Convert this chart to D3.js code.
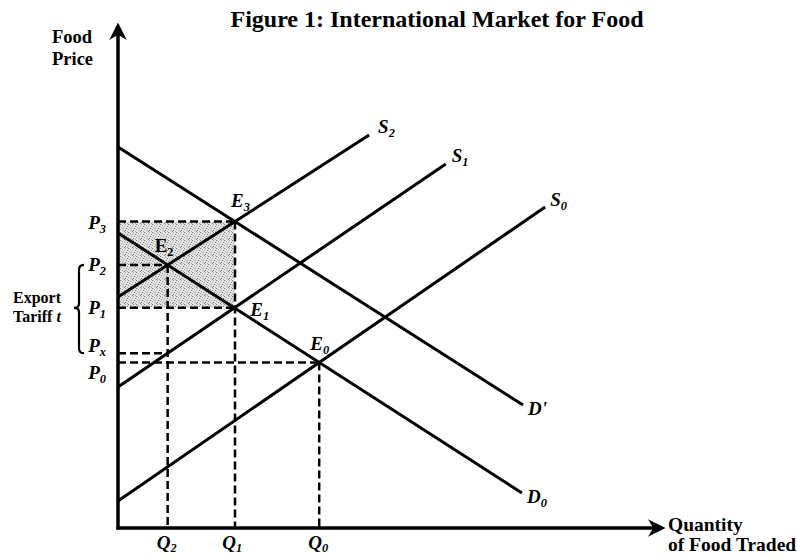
<!DOCTYPE html>
<meta charset="utf-8">
<style>
    body { margin: 0; background: #fff; }
    text { font-family: "Liberation Serif", "Times New Roman", serif; font-weight: bold; fill: #000; }
    .it { font-style: italic; }
    .curve { fill: none; stroke: #000; stroke-width: 3; }
    .dash { fill: none; stroke: #000; stroke-width: 2.5; stroke-dasharray: 8,4; }
</style>
<script src="https://d3js.org/d3.v7.min.js"></script>
<svg width="797" height="558"></svg>
<script>
    // curves as [quantity, price] end points (0..100 units)
    let demandNames = ["D'", "D0"];
    let demandLines = [[[0, 76.2], [75, 24.6]], [[0, 59], [74.8, 7]]];
    let supplyNames = ["S2", "S1", "S0"];
    let supplyLines = [[[0, 46.2], [46.5, 78.6]], [[0, 28.2], [60.7, 72.8]], [[0, 5.4], [79.1, 64.2]]];

    let svg = d3.select("svg");
    let x = d3.scaleLinear().domain([0, 100]).range([118, 658]);
    let y = d3.scaleLinear().domain([0, 100]).range([528, 28]);

    let curves = {};
    demandNames.forEach((n, i) => curves[n] = demandLines[i]);
    supplyNames.forEach((n, i) => curves[n] = supplyLines[i]);

    function lineFn(seg) {
        let m = (seg[1][1] - seg[0][1]) / (seg[1][0] - seg[0][0]);
        return { m: m, b: seg[0][1] - m * seg[0][0] };
    }
    function cross(a, b) {
        let l1 = lineFn(curves[a]), l2 = lineFn(curves[b]);
        let q = (l2.b - l1.b) / (l1.m - l2.m);
        return [q, l1.m * q + l1.b];
    }
    function at(name, q) { let l = lineFn(curves[name]); return l.m * q + l.b; }

    let E0 = cross("S0", "D0"), E1 = cross("S1", "D0"), E2 = cross("S2", "D0"), E3 = cross("S2", "D'");
    let Px = at("S1", E2[0]);

    // stipple pattern for the shaded area
    let defs = svg.append("defs");
    let pat = defs.append("pattern").attr("id", "stip").attr("width", 8).attr("height", 8)
        .attr("patternUnits", "userSpaceOnUse");
    pat.append("rect").attr("width", 8).attr("height", 8).attr("fill", "#e2e2e2");
    let dots = [[0, 0], [5, 0], [2, 1], [7, 2], [4, 2], [1, 3], [6, 4], [3, 4], [0, 5], [5, 6], [2, 6], [7, 7], [4, 7]];
    dots.forEach((d, i) =>
        pat.append("rect").attr("x", d[0]).attr("y", d[1]).attr("width", 1).attr("height", 1)
            .attr("fill", i % 3 ? "#a0a0a0" : "#7a7a7a"));
    defs.append("marker").attr("id", "arr").attr("viewBox", "0 0 10 10").attr("refX", 8).attr("refY", 5)
        .attr("markerWidth", 5).attr("markerHeight", 5).attr("orient", "auto")
        .append("path").attr("d", "M0,0L10,5L0,10L3,5Z").attr("fill", "#000");

    svg.append("rect")
        .attr("x", x(0)).attr("y", y(E3[1]))
        .attr("width", x(E1[0]) - x(0)).attr("height", y(E1[1]) - y(E3[1]))
        .attr("fill", "url(#stip)");

    // dashed guides
    let hDash = [[E3[1], E3[0]], [E2[1], E2[0]], [E1[1], E1[0]], [Px, E2[0]], [E0[1], E0[0]]];
    svg.selectAll(".hd").data(hDash).enter().append("line").attr("class", "dash")
        .attr("x1", x(0)).attr("x2", d => x(d[1])).attr("y1", d => y(d[0])).attr("y2", d => y(d[0]));
    let vDash = [E2, E3, E0];
    svg.selectAll(".vd").data(vDash).enter().append("line").attr("class", "dash")
        .attr("x1", d => x(d[0])).attr("x2", d => x(d[0])).attr("y1", d => y(d[1])).attr("y2", y(0));

    let line = d3.line().x(d => x(d[0])).y(d => y(d[1]));
    svg.selectAll(".curve").data(demandLines.concat(supplyLines)).enter().append("path")
        .attr("class", "curve").attr("d", line);

    // axes
    svg.append("line").attr("x1", x(0)).attr("x2", x(0)).attr("y1", y(0) + 1.5).attr("y2", y(100) - 2)
        .attr("stroke", "#000").attr("stroke-width", 3.5).attr("marker-end", "url(#arr)");
    svg.append("line").attr("x1", x(0) - 1.5).attr("x2", x(100) + 4).attr("y1", y(0)).attr("y2", y(0))
        .attr("stroke", "#000").attr("stroke-width", 3.5).attr("marker-end", "url(#arr)");

    function label(px, py, main, sub, opts) {
        opts = opts || {};
        let size = opts.size || 19;
        let t = svg.append("text").attr("x", px).attr("y", py)
            .attr("font-size", size).attr("text-anchor", opts.anchor || "start");
        if (opts.italic !== false) t.attr("class", "it");
        t.append("tspan").text(main);
        if (sub) t.append("tspan").attr("dy", opts.dy || 4).attr("font-size", size * 0.65).text(sub);
        return t;
    }

    svg.append("text").attr("x", 437).attr("y", 27).attr("text-anchor", "middle")
        .attr("font-size", 24).text("Figure 1: International Market for Food");
    svg.append("text").attr("x", 52).attr("y", 43).attr("font-size", 18.5).text("Food");
    svg.append("text").attr("x", 52).attr("y", 65).attr("font-size", 18.5).text("Price");
    svg.append("text").attr("x", 668).attr("y", 531).attr("font-size", 19.5).text("Quantity");
    svg.append("text").attr("x", 668).attr("y", 551).attr("font-size", 19.5).text("of Food Traded");
    svg.append("text").attr("x", 13).attr("y", 303).attr("font-size", 16).text("Export");
    svg.append("text").attr("x", 13).attr("y", 322).attr("font-size", 16).text("Tariff ")
        .append("tspan").attr("font-style", "italic").text("t");

    // brace for the tariff
    let b0 = y(E2[1]), b1 = y(Px), bm = y(E1[1]);
    svg.append("path").attr("fill", "none").attr("stroke", "#000").attr("stroke-width", 2.2)
        .attr("d", `M84,${b0}Q79,${b0} 79,${b0 + 5}L79,${bm - 4}Q79,${bm} 74,${bm}Q79,${bm} 79,${bm + 4}L79,${b1 - 5}Q79,${b1} 84,${b1}`);

    // price labels
    label(106, y(E3[1]) + 7, "P", "3", { anchor: "end" });
    label(106, y(E2[1]) + 6, "P", "2", { anchor: "end" });
    label(106, y(E1[1]) + 6, "P", "1", { anchor: "end" });
    label(106, y(Px) - 1, "P", "x", { anchor: "end" });
    label(106, y(E0[1]) + 16, "P", "0", { anchor: "end" });

    // quantity labels
    label(x(E2[0]) - 11, 549, "Q", "2", { dy: 3 });
    label(x(E1[0]) - 12, 549, "Q", "1", { dy: 3 });
    label(x(E0[0]) - 11, 549, "Q", "0", { dy: 3 });

    // equilibrium labels
    label(x(E3[0]) - 4, y(E3[1]) - 15, "E", "3");
    label(x(E2[0]) - 13, y(E2[1]) - 13, "E", "2", { italic: false });
    label(x(E1[0]) + 16, y(E1[1]) + 8, "E", "1");
    label(x(E0[0]) - 9, y(E0[1]) - 13, "E", "0");

    // curve labels
    let ends = demandLines.map(d => d[1]).concat(supplyLines.map(d => d[1]));
    let names = ["D'", "D", "S", "S", "S"];
    let subs = ["", "0", "2", "1", "0"];
    let off = [[5, 10], [5, 10], [9, -2], [6, -2], [5, -1]];
    ends.forEach((e, i) => label(x(e[0]) + off[i][0], y(e[1]) + off[i][1], names[i], subs[i]));
</script>
